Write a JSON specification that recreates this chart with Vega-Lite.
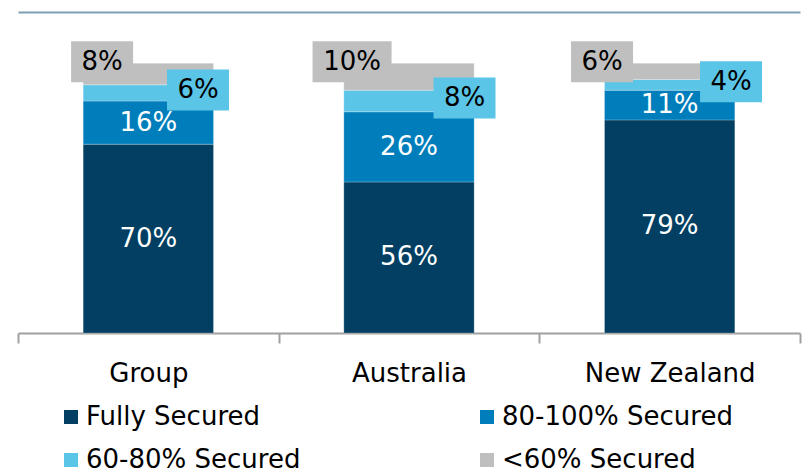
{
  "$schema": "https://vega.github.io/schema/vega-lite/v6.json",
  "width": 782,
  "height": 321,
  "autosize": {"type": "none"},
  "padding": {"left": 18, "top": 12, "right": 8, "bottom": 138},
  "background": "white",
  "config": {
    "view": {"stroke": null},
    "font": "DejaVu Sans"
  },
  "data": {
    "values": [
      {"region": "Group", "series": "Fully Secured", "value": 70},
      {"region": "Group", "series": "80-100% Secured", "value": 16},
      {"region": "Group", "series": "60-80% Secured", "value": 6},
      {"region": "Group", "series": "<60% Secured", "value": 8},
      {"region": "Australia", "series": "Fully Secured", "value": 56},
      {"region": "Australia", "series": "80-100% Secured", "value": 26},
      {"region": "Australia", "series": "60-80% Secured", "value": 8},
      {"region": "Australia", "series": "<60% Secured", "value": 10},
      {"region": "New Zealand", "series": "Fully Secured", "value": 79},
      {"region": "New Zealand", "series": "80-100% Secured", "value": 11},
      {"region": "New Zealand", "series": "60-80% Secured", "value": 4},
      {"region": "New Zealand", "series": "<60% Secured", "value": 6}
    ]
  },
  "transform": [
    {"calculate": "indexof(['Fully Secured','80-100% Secured','60-80% Secured','<60% Secured'], datum.series)", "as": "k"},
    {"stack": "value", "groupby": ["region"], "sort": [{"field": "k", "order": "ascending"}], "as": ["v0", "v1"]},
    {"calculate": "(datum.v0 + datum.v1) / 2", "as": "mid"},
    {"calculate": "datum.value + '%'", "as": "label"}
  ],
  "encoding": {
    "x": {
      "field": "region",
      "type": "nominal",
      "sort": ["Group", "Australia", "New Zealand"],
      "scale": {"paddingInner": 0, "paddingOuter": 0},
      "axis": {
        "title": null,
        "labelAngle": 0,
        "labelFontSize": 26,
        "labelColor": "#000000",
        "labelFont": "DejaVu Sans",
        "labelPadding": 17,
        "domainColor": "#a0a0a0",
        "domainWidth": 2,
        "tickColor": "#a0a0a0",
        "tickWidth": 2,
        "tickSize": 10,
        "tickBand": "extent"
      }
    },
    "y": {
      "field": "v0",
      "type": "quantitative",
      "scale": {"domain": [0, 119], "nice": false},
      "axis": {
        "title": null,
        "values": [119],
        "labels": false,
        "ticks": false,
        "domain": false,
        "grid": true,
        "gridColor": "#7c9fb4",
        "gridWidth": 2
      }
    }
  },
  "resolve": {"scale": {"xOffset": "independent"}},
  "layer": [
    {
      "mark": {"type": "bar", "width": {"band": 0.5}, "stroke": "#ffffff", "strokeWidth": 0.8, "strokeOpacity": 0.3},
      "encoding": {
        "y2": {"field": "v1"},
        "color": {
          "field": "series",
          "type": "nominal",
          "scale": {
            "domain": ["Fully Secured", "80-100% Secured", "60-80% Secured", "<60% Secured"],
            "range": ["#023f62", "#007ebb", "#5bc5e7", "#bfbfbf"]
          },
          "legend": {
            "title": null,
            "orient": "none",
            "legendX": 40,
            "legendY": 392,
            "columns": 2,
            "direction": "horizontal",
            "symbolType": "square",
            "symbolSize": 196,
            "symbolStrokeWidth": 0,
            "labelFontSize": 26,
            "labelFont": "DejaVu Sans",
            "labelColor": "#000000",
            "labelOffset": 2,
            "columnPadding": 173,
            "rowPadding": 17,
            "labelLimit": 400
          }
        }
      }
    },
    {
      "transform": [{"filter": "datum.k <= 1"}],
      "mark": {"type": "text", "fontSize": 26, "color": "#ffffff", "baseline": "middle", "align": "center"},
      "encoding": {
        "y": {"field": "mid", "type": "quantitative"},
        "text": {"field": "label"}
      }
    },
    {
      "transform": [{"filter": "datum.k == 3 && datum.value < 10"}],
      "mark": {"type": "point", "filled": true, "opacity": 1, "color": "#bfbfbf", "size": 1681, "yOffset": -1.5, "strokeWidth": 0,
        "shape": "M-1.512,-1L1.512,-1L1.512,1L-1.512,1Z"},
      "encoding": {
        "xOffset": {"field": "region", "type": "nominal", "scale": {"domain": ["New Zealand", "Australia", "Group"], "range": [62.7, 84.1], "paddingInner": 0, "paddingOuter": 0}},
        "y": {"field": "v1", "type": "quantitative"}
      }
    },
    {
      "transform": [{"filter": "datum.k == 3 && datum.value >= 10"}],
      "mark": {"type": "point", "filled": true, "opacity": 1, "color": "#bfbfbf", "size": 1681, "yOffset": -1.5, "strokeWidth": 0,
        "shape": "M-1.927,-1L1.927,-1L1.927,1L-1.927,1Z"},
      "encoding": {
        "xOffset": {"field": "region", "type": "nominal", "scale": {"domain": ["New Zealand", "Australia", "Group"], "range": [62.7, 84.1], "paddingInner": 0, "paddingOuter": 0}},
        "y": {"field": "v1", "type": "quantitative"}
      }
    },
    {
      "transform": [{"filter": "datum.k == 3"}],
      "mark": {"type": "text", "fontSize": 26, "color": "#000000", "baseline": "middle", "align": "center", "yOffset": -1.5},
      "encoding": {
        "xOffset": {"field": "region", "type": "nominal", "scale": {"domain": ["New Zealand", "Australia", "Group"], "range": [62.7, 84.1], "paddingInner": 0, "paddingOuter": 0}},
        "y": {"field": "v1", "type": "quantitative"},
        "text": {"field": "label"}
      }
    },
    {
      "transform": [{"filter": "datum.k == 2"}],
      "mark": {"type": "point", "filled": true, "opacity": 1, "color": "#5bc5e7", "size": 1681, "yOffset": -3, "strokeWidth": 0,
        "shape": "M-1.512,-1L1.512,-1L1.512,1L-1.512,1Z"},
      "encoding": {
        "xOffset": {"field": "region", "type": "nominal", "scale": {"domain": ["Group", "Australia", "New Zealand"], "range": [180, 191.7], "paddingInner": 0, "paddingOuter": 0}},
        "y": {"field": "mid", "type": "quantitative"}
      }
    },
    {
      "transform": [{"filter": "datum.k == 2"}],
      "mark": {"type": "text", "fontSize": 26, "color": "#000000", "baseline": "middle", "align": "center", "yOffset": -3},
      "encoding": {
        "xOffset": {"field": "region", "type": "nominal", "scale": {"domain": ["Group", "Australia", "New Zealand"], "range": [180, 191.7], "paddingInner": 0, "paddingOuter": 0}},
        "y": {"field": "mid", "type": "quantitative"},
        "text": {"field": "label"}
      }
    }
  ]
}
